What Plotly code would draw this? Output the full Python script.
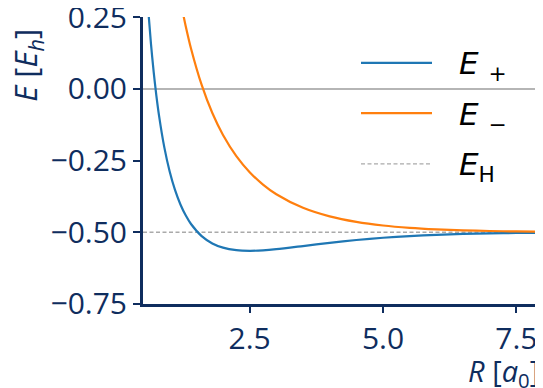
import plotly.graph_objects as go

# Bond length R [a0] and LCAO energies [E_h]
R_plus = [0.6, 0.65, 0.7, 0.75, 0.8, 0.9, 1.0, 1.1, 1.2, 1.3, 1.4, 1.6, 1.8, 2.0, 2.25, 2.5,
          2.75, 3.0, 3.5, 4.0, 4.5, 5.0, 5.5, 6.0, 6.5, 7.0, 7.5, 8.0]
E_plus = [0.2708, 0.1557, 0.0592, -0.0226, -0.0924, -0.2042, -0.2884, -0.3527, -0.4024, -0.4411,
          -0.4713, -0.5135, -0.5390, -0.5538, -0.5626, -0.5648, -0.5631, -0.5591, -0.5482,
          -0.5369, -0.5270, -0.5192, -0.5133, -0.5091, -0.5061, -0.5040, -0.5027, -0.5017]

R_minus = [1.2, 1.25, 1.3, 1.4, 1.6, 1.8, 2.0, 2.25, 2.5, 2.75, 3.0, 3.5, 4.0, 4.5, 5.0, 5.5,
           6.0, 6.5, 7.0, 7.5, 8.0]
E_minus = [0.3106, 0.2631, 0.2192, 0.1406, 0.0133, -0.0845, -0.1609, -0.2346, -0.2906, -0.3339,
           -0.3676, -0.4150, -0.4449, -0.4641, -0.4766, -0.4847, -0.4900, -0.4935, -0.4958,
           -0.4973, -0.4982]

E_H = -0.5
R_range = [0.5, 8.0]
E_range = [-0.7502, 0.2502]
x_ticks = [2.5, 5.0, 7.5]
x_ticktext = ["2.5", "5.0", "7.5"]
y_ticks = [-0.75, -0.50, -0.25, 0.00, 0.25]
y_ticktext = ["−0.75", "−0.50", "−0.25", "0.00", "0.25"]

NAVY = "#0f2d5e"
BLUE = "#1f77b4"
ORANGE = "#ff7f0e"
GREY = "#aaaaaa"

fig = go.Figure()
fig.add_trace(go.Scatter(x=R_range, y=[E_H, E_H], mode="lines",
                         line=dict(color=GREY, width=1.5, dash="4px,2.5px"),
                         showlegend=False, hoverinfo="skip"))
fig.add_trace(go.Scatter(x=R_plus, y=E_plus, mode="lines",
                         line=dict(color=BLUE, width=2.2, shape="spline", smoothing=0.8),
                         showlegend=False))
fig.add_trace(go.Scatter(x=R_minus, y=E_minus, mode="lines",
                         line=dict(color=ORANGE, width=2.2, shape="spline", smoothing=0.8),
                         showlegend=False))

tickfont = dict(family="Open Sans", size=30, color=NAVY)
fig.update_layout(
    width=535, height=380,
    margin=dict(l=135, r=0, t=9, b=84, autoexpand=False),
    paper_bgcolor="white", plot_bgcolor="white",
    xaxis=dict(range=R_range, tickvals=x_ticks, ticktext=x_ticktext, automargin=False,
               showgrid=False, zeroline=False, showline=True, linecolor=NAVY, linewidth=3,
               ticks="outside", ticklen=6, tickwidth=2, tickcolor=NAVY, tickfont=tickfont,
               ticklabeloverflow="allow"),
    yaxis=dict(range=E_range, tickvals=y_ticks, ticktext=y_ticktext, automargin=False,
               showgrid=False, zeroline=True, zerolinecolor="#b5b5b5", zerolinewidth=1.5,
               showline=True, linecolor=NAVY, linewidth=3,
               ticks="outside", ticklen=7, tickwidth=2, tickcolor=NAVY, tickfont=tickfont,
               ticklabeloverflow="allow"),
)

# axis labels (placed at top / right like the reference)
fig.add_annotation(xref="paper", yref="paper", x=-0.29, y=0.83, showarrow=False,
                   text="<i>E</i> [<i>E</i><sub><i>h</i></sub>]", textangle=-90,
                   font=dict(family="Open Sans", size=31, color=NAVY),
                   xanchor="center", yanchor="middle")
fig.add_annotation(xref="paper", yref="paper", x=0.995, y=-0.24, showarrow=False,
                   text="<i>R</i> [<i>a</i><sub>0</sub>]",
                   font=dict(family="Open Sans", size=29, color=NAVY),
                   xanchor="right", yanchor="middle")

# legend
legend_items = [("<i>E</i> <sub>+</sub>", BLUE, "solid", 2.2, 0.84),
                ("<i>E</i> <sub>−</sub>", ORANGE, "solid", 2.2, 0.665),
                ("<i>E</i><sub>H</sub>", GREY, "4px,2.5px", 1.3, 0.488)]
for txt, col, dash, w, yy in legend_items:
    fig.add_shape(type="line", xref="paper", yref="paper", x0=0.545, x1=0.7225, y0=yy, y1=yy,
                  line=dict(color=col, width=w, dash=dash))
    fig.add_annotation(xref="paper", yref="paper", x=0.785, y=yy - 0.01, showarrow=False,
                       text=txt, xanchor="left", yanchor="middle",
                       font=dict(family="DejaVu Sans", size=31, color="black"))

fig.write_html("out.html")
